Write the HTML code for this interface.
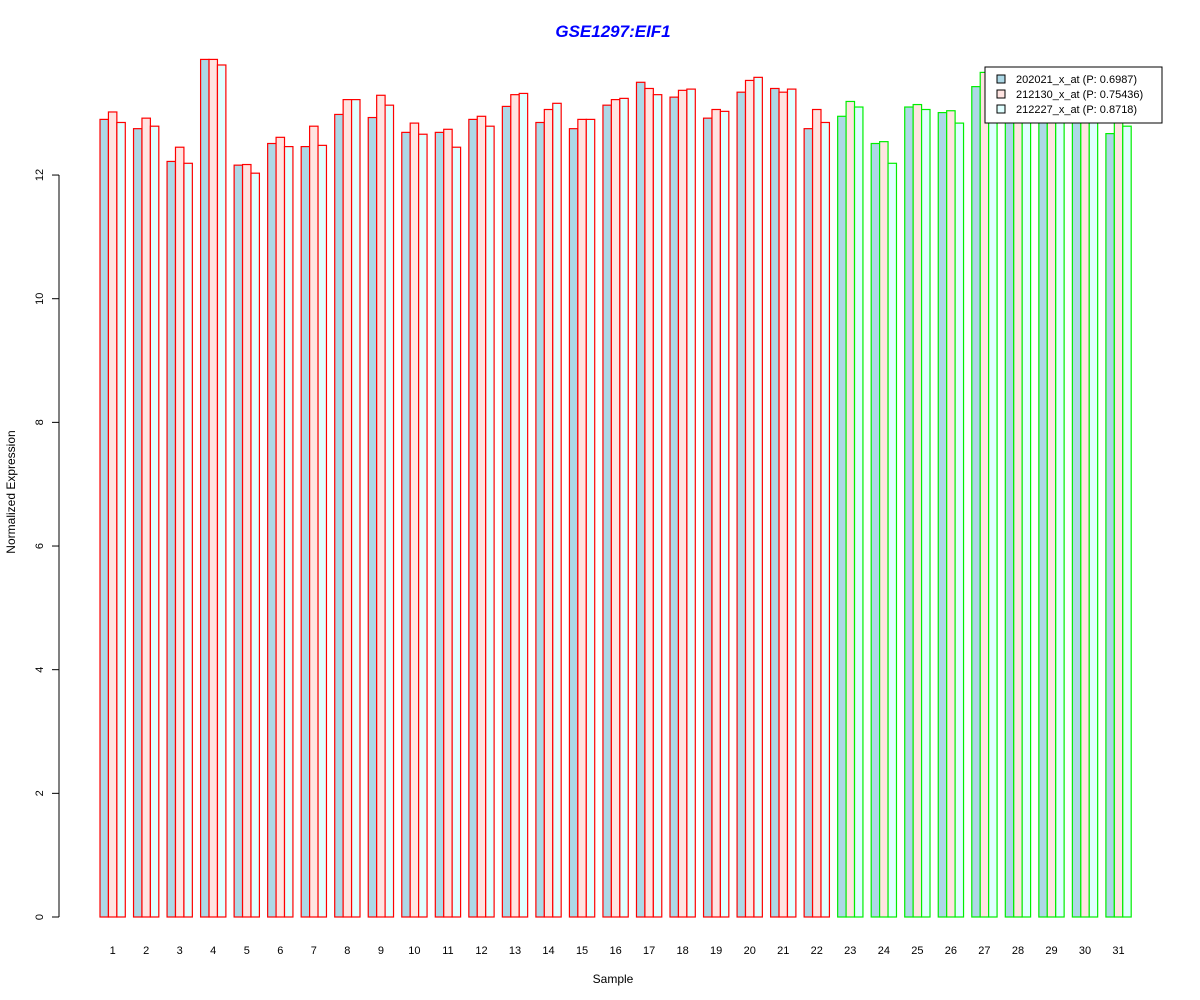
<!DOCTYPE html>
<html><head><meta charset="utf-8"><style>body{margin:0;background:#fff}svg{display:block;font-family:"Liberation Sans",Arial,sans-serif}</style></head>
<body>
<svg id="chart" width="1200" height="1000" xmlns="http://www.w3.org/2000/svg">
<rect width="1200" height="1000" fill="#fff"/>
<text x="613" y="37" text-anchor="middle" font-size="17" font-weight="bold" font-style="italic" fill="#0000ff">GSE1297:EIF1</text>
<text x="613" y="983" text-anchor="middle" font-size="12">Sample</text>
<text transform="translate(15,492) rotate(-90)" text-anchor="middle" font-size="12">Normalized Expression</text>
<g id="bars"></g><g id="axis"></g>
<g>
<rect x="985" y="67" width="177" height="56" fill="#fff" stroke="#000"/>
<rect x="997" y="75" width="8" height="8" fill="#add8e6" stroke="#000"/>
<rect x="997" y="90" width="8" height="8" fill="#ffe4e1" stroke="#000"/>
<rect x="997" y="105" width="8" height="8" fill="#e0ffff" stroke="#000"/>
<text x="1016" y="83" font-size="11">202021_x_at (P: 0.6987)</text>
<text x="1016" y="98" font-size="11">212130_x_at (P: 0.75436)</text>
<text x="1016" y="113" font-size="11">212227_x_at (P: 0.8718)</text>
</g>
</svg>
<script>
const samples=[1,2,3,4,5,6,7,8,9,10,11,12,13,14,15,16,17,18,19,20,21,22,23,24,25,26,27,28,29,30,31];
const s202021=[12.90,12.75,12.22,13.87,12.16,12.51,12.46,12.98,12.93,12.69,12.69,12.90,13.11,12.85,12.75,13.13,13.50,13.26,12.92,13.34,13.40,12.75,12.95,12.51,13.10,13.01,13.43,13.3,13.25,13.2,12.67];
const s212130=[13.02,12.92,12.45,13.87,12.17,12.61,12.79,13.22,13.29,12.84,12.74,12.95,13.30,13.06,12.90,13.22,13.40,13.37,13.06,13.53,13.34,13.06,13.19,12.54,13.14,13.04,13.66,13.4,13.35,13.3,13.3];
const s212227=[12.85,12.79,12.19,13.78,12.03,12.46,12.48,13.22,13.13,12.66,12.45,12.79,13.32,13.16,12.90,13.24,13.30,13.39,13.03,13.58,13.39,12.85,13.10,12.19,13.06,12.84,13.6,13.3,13.3,13.25,12.79];
const groupA=22;
const yTicks=[0,2,4,6,8,10,12];
const NS="http://www.w3.org/2000/svg";
const y0=917,k=61.83;
const Y=v=>y0-v*k;
const X=i=>100+i*33.53;
const bw=8.43;
const bars=document.getElementById('bars'),axis=document.getElementById('axis');
const series=[s202021,s212130,s212227],fills=['#add8e6','#ffe4e1','#e0ffff'];
samples.forEach((s,i)=>{
  const stroke=i<groupA?'#ff0000':'#00ee00';
  series.forEach((arr,j)=>{
    const r=document.createElementNS(NS,'rect');
    
    
    r.setAttribute('x',X(i)+j*bw);r.setAttribute('y',Y(arr[i]));
    r.setAttribute('width',bw);r.setAttribute('height',y0-Y(arr[i]));
    r.setAttribute('fill',fills[j]);r.setAttribute('stroke',stroke);r.setAttribute('stroke-width','1.2');
    bars.appendChild(r);
  });
  const t=document.createElementNS(NS,'text');
  
  
  t.setAttribute('x',X(i)+1.5*bw);t.setAttribute('y',954);t.setAttribute('text-anchor','middle');t.setAttribute('font-size','11');
  t.textContent=s;bars.appendChild(t);
});
const al=document.createElementNS(NS,'line');


al.setAttribute('x1',59);al.setAttribute('x2',59);al.setAttribute('y1',Y(0));al.setAttribute('y2',Y(12));al.setAttribute('stroke','#000');
axis.appendChild(al);
yTicks.forEach(v=>{
  const l=document.createElementNS(NS,'line');
  
  
  l.setAttribute('x1',52);l.setAttribute('x2',59);l.setAttribute('y1',Y(v));l.setAttribute('y2',Y(v));l.setAttribute('stroke','#000');
  axis.appendChild(l);
  const t=document.createElementNS(NS,'text');
  
  
  t.setAttribute('transform','translate(43,'+Y(v)+') rotate(-90)');t.setAttribute('text-anchor','middle');t.setAttribute('font-size','11');
  t.textContent=v;axis.appendChild(t);
});
</script>
</body></html>
